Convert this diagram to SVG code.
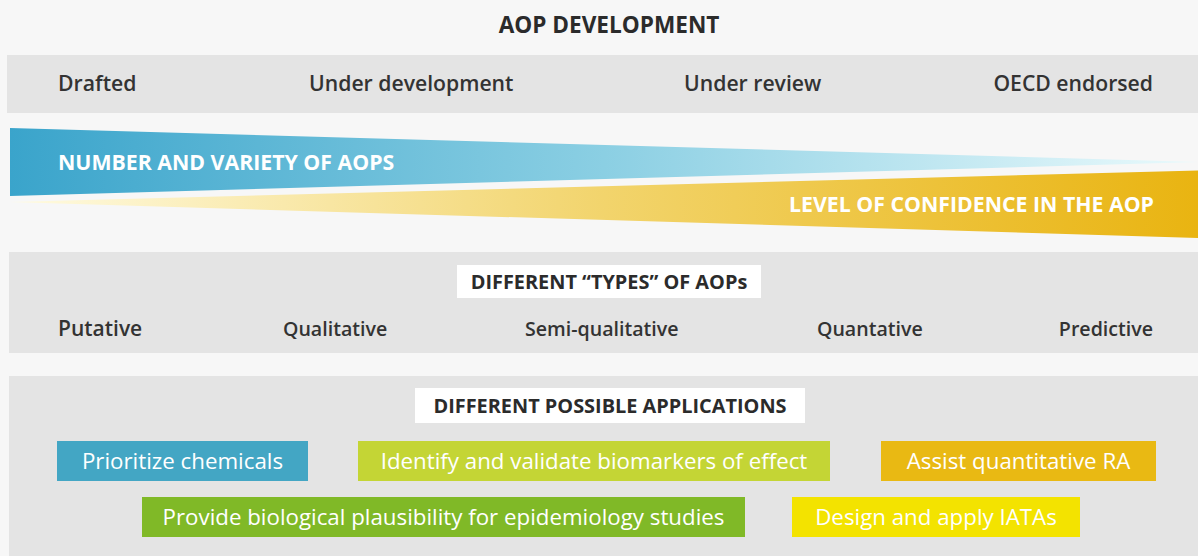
<svg xmlns="http://www.w3.org/2000/svg" width="1198" height="556" viewBox="0 0 1198 556">
  <defs>
    <linearGradient id="gBlue" x1="10" y1="0" x2="1198" y2="0" gradientUnits="userSpaceOnUse">
      <stop offset="0" stop-color="#3aa4cb"/>
      <stop offset="0.5" stop-color="#8bcfe3"/>
      <stop offset="1" stop-color="#eafafc"/>
    </linearGradient>
    <linearGradient id="gYellow" x1="10" y1="0" x2="1198" y2="0" gradientUnits="userSpaceOnUse">
      <stop offset="0" stop-color="#fffbe2"/>
      <stop offset="0.5" stop-color="#f2d46c"/>
      <stop offset="1" stop-color="#e9b411"/>
    </linearGradient>
    <style>
      .band { fill: #e4e4e4; }
      .title { font-family: "Open Sans", "Liberation Sans", sans-serif; font-weight: 700; font-size: 22.6px; fill: #2b2b2b; }
      .stage { font-family: "Open Sans", "Liberation Sans", sans-serif; font-weight: 600; font-size: 21.2px; fill: #333333; }
      .type { font-family: "Open Sans", "Liberation Sans", sans-serif; font-weight: 600; font-size: 19.6px; fill: #333333; }
      .head { font-family: "Open Sans", "Liberation Sans", sans-serif; font-weight: 700; font-size: 19.9px; fill: #2b2b2b; }
      .wedge { font-family: "Open Sans", "Liberation Sans", sans-serif; font-weight: 700; font-size: 21.3px; fill: #ffffff; }
      .app { font-family: "Open Sans", "Liberation Sans", sans-serif; font-weight: 400; font-size: 22.3px; fill: #ffffff; }
      .label { fill: #ffffff; }
    </style>
  </defs>

  <rect x="0" y="0" width="1198" height="556" fill="#f7f7f7"/>

  <!-- development stages -->
  <g id="development">
    <text class="title" x="609" y="33" text-anchor="middle">AOP DEVELOPMENT</text>
    <rect class="band" x="7" y="55" width="1191" height="58"/>
    <text class="stage" x="58" y="91">Drafted</text>
    <text class="stage" x="309" y="91">Under development</text>
    <text class="stage" x="684" y="91">Under review</text>
    <text class="stage" x="1153" y="91" text-anchor="end">OECD endorsed</text>
  </g>

  <!-- opposing wedges -->
  <g id="number-variety">
    <polygon points="10,128 1198,162 10,196" fill="url(#gBlue)"/>
    <text class="wedge" x="58" y="170">NUMBER AND VARIETY OF AOPS</text>
  </g>
  <g id="confidence">
    <polygon points="10,202 1198,170.5 1198,238" fill="url(#gYellow)"/>
    <text class="wedge" x="1154" y="212" text-anchor="end">LEVEL OF CONFIDENCE IN THE AOP</text>
  </g>

  <!-- AOP types -->
  <g id="types">
    <rect class="band" x="9" y="252" width="1189" height="101"/>
    <rect class="label" x="457" y="265" width="304" height="33"/>
    <text class="head" x="609" y="289" text-anchor="middle">DIFFERENT “TYPES” OF AOPs</text>
    <text class="type" x="58" y="336" style="font-size:21px">Putative</text>
    <text class="type" x="283" y="336">Qualitative</text>
    <text class="type" x="525" y="336">Semi-qualitative</text>
    <text class="type" x="817" y="336">Quantative</text>
    <text class="type" x="1153" y="336" text-anchor="end">Predictive</text>
  </g>

  <!-- applications -->
  <g id="applications">
    <rect class="band" x="9" y="376" width="1189" height="180"/>
    <rect class="label" x="415" y="388" width="390" height="35"/>
    <text class="head" x="610" y="413" text-anchor="middle">DIFFERENT POSSIBLE APPLICATIONS</text>
  </g>
  <g id="app-prioritize">
    <rect x="57" y="441" width="251" height="40" fill="#43a6c4"/>
    <text class="app" x="182.5" y="469" text-anchor="middle">Prioritize chemicals</text>
  </g>
  <g id="app-biomarkers">
    <rect x="358" y="441" width="472" height="40" fill="#c4d535"/>
    <text class="app" x="594" y="469" text-anchor="middle">Identify and validate biomarkers of effect</text>
  </g>
  <g id="app-quantitative-ra">
    <rect x="881" y="441" width="275" height="40" fill="#e9b913"/>
    <text class="app" x="1018.5" y="469" text-anchor="middle">Assist quantitative RA</text>
  </g>
  <g id="app-plausibility">
    <rect x="142" y="497" width="603" height="40" fill="#80b927"/>
    <text class="app" x="443.5" y="525" text-anchor="middle">Provide biological plausibility for epidemiology studies</text>
  </g>
  <g id="app-iatas">
    <rect x="792" y="497" width="288" height="40" fill="#f3e300"/>
    <text class="app" x="936" y="525" text-anchor="middle">Design and apply IATAs</text>
  </g>

  <g id="connectors"></g>
</svg>
